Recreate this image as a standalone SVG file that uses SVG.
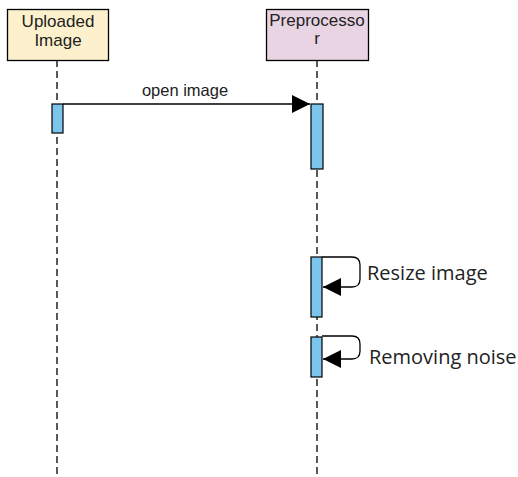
<svg xmlns="http://www.w3.org/2000/svg" width="518" height="477" viewBox="0 0 518 477">
  <style>
    .box { stroke: #000; stroke-width: 1.3; }
    .lbl { font-family: "Liberation Sans", Arial, sans-serif; font-size: 17px; fill: #222; text-anchor: middle; }
    .life { stroke: #000; stroke-width: 1.3; stroke-dasharray: 7 4; fill: none; }
    .act { fill: #7cc6ee; stroke: #000; stroke-width: 1.2; }
    .msg { stroke: #000; stroke-width: 1.3; fill: none; }
    .msgtxt { font-family: "Liberation Sans", Arial, sans-serif; font-size: 16.5px; fill: #222; }
    .self { font-family: "Open Sans", "Noto Sans", sans-serif; font-size: 20px; fill: #222; }
  </style>
  <defs>
    <marker id="head" viewBox="0 0 18 18" refX="18" refY="9" markerWidth="18" markerHeight="18" markerUnits="userSpaceOnUse" orient="auto">
      <path d="M0,0 L18,9 L0,18 Z" fill="#000"/>
    </marker>
  </defs>
  <rect width="518" height="477" fill="#fff"/>

  <g id="uploaded-image">
    <line class="life" x1="57" y1="60" x2="57" y2="477"/>
    <rect class="box" x="7.5" y="9.5" width="101" height="51" fill="#fdf1cd"/>
    <text class="lbl" x="58" y="27">Uploaded</text>
    <text class="lbl" x="58" y="46">Image</text>
    <rect class="act" x="52" y="104" width="11" height="29"/>
  </g>

  <g id="preprocessor">
    <line class="life" x1="317" y1="60" x2="317" y2="477"/>
    <rect class="box" x="266.5" y="9.5" width="102" height="51" fill="#e8d4e2"/>
    <text class="lbl" x="317" y="26">Preprocesso</text>
    <text class="lbl" x="317" y="44">r</text>
    <rect class="act" x="311" y="104" width="12" height="65"/>
    <rect class="act" x="311" y="257" width="11" height="60"/>
    <rect class="act" x="311" y="337" width="11" height="40"/>
  </g>

  <g id="connectors">
    <line class="msg" x1="63" y1="104" x2="310" y2="104" marker-end="url(#head)"/>
    <text class="msgtxt" x="185" y="96" text-anchor="middle">open image</text>

    <path class="msg" d="M322,257 H352 Q360,257 360,265 V279 Q360,287 352,287 H323" marker-end="url(#head)"/>
    <text class="self" x="367" y="280">Resize image</text>

    <path class="msg" d="M322,336 H352 Q360,336 360,344 V351 Q360,359 352,359 H323" marker-end="url(#head)"/>
    <text class="self" x="369" y="364">Removing noise</text>
  </g>
</svg>
